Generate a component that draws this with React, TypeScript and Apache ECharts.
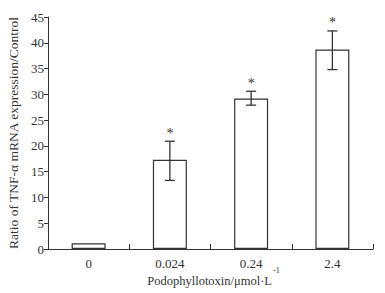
import React, { useEffect, useRef } from "react";
import * as echarts from "echarts";

const categories = ["0", "0.024", "0.24", "2.4"];
const values = [1.1, 17.3, 29.2, 38.7];
const errLow = [1.1, 13.3, 27.9, 34.8];
const errHigh = [1.1, 20.9, 30.6, 42.3];
const marks = ["", "*", "*", "*"];
const yTicks = { min: 0, max: 45, interval: 5 };
const xTitle = "Podophyllotoxin/μmol·L";
const xTitleSup = "-1";
const yTitle = "Ratio of TNF-α mRNA expression/Control";

const FONT = "'Liberation Serif', 'Times New Roman', serif";
const INK = "#333";

export default function App() {
  const ref = useRef<HTMLDivElement>(null);
  useEffect(() => {
    if (!ref.current) return;
    const chart = echarts.init(ref.current, undefined, { renderer: "svg" });
    const errData = categories.map((_, i) => [i, errLow[i], errHigh[i], marks[i]]);
    chart.setOption({
      animation: false,
      backgroundColor: "#fff",
      grid: { left: 48, right: 12, top: 17, bottom: 44, containLabel: false, outerBoundsMode: "none" },
      graphic: [
        {
          type: "text",
          x: 272,
          y: 281,
          style: {
            text: xTitle,
            fontFamily: FONT,
            fontSize: 12.5,
            fill: INK,
            align: "right",
            verticalAlign: "middle",
          },
        },
        {
          type: "text",
          x: 273,
          y: 270,
          style: {
            text: xTitleSup,
            fontFamily: FONT,
            fontSize: 8,
            fill: INK,
            align: "left",
            verticalAlign: "middle",
          },
        },
      ],
      xAxis: {
        type: "category",
        data: categories,
        axisLine: { lineStyle: { color: INK, width: 1 } },
        axisTick: { show: true, inside: true, length: 5, lineStyle: { color: INK } },
        axisLabel: { color: INK, fontFamily: FONT, fontSize: 13, margin: 8 },
      },
      yAxis: {
        type: "value",
        min: yTicks.min,
        max: yTicks.max,
        interval: yTicks.interval,
        splitLine: { show: false },
        axisLine: { show: true, lineStyle: { color: INK, width: 1 } },
        axisTick: { show: true, length: 4, lineStyle: { color: INK } },
        axisLabel: { color: INK, fontFamily: FONT, fontSize: 13, margin: 4 },
        name: yTitle,
        nameLocation: "middle",
        nameGap: 28,
        nameTextStyle: { color: INK, fontFamily: FONT, fontSize: 13.5 },
      },
      series: [
        {
          type: "bar",
          data: values,
          barWidth: 34,
          itemStyle: { color: "#fff", borderColor: INK, borderWidth: 1.2 },
        },
        {
          type: "custom",
          data: errData,
          z: 5,
          renderItem: (params: any, api: any) => {
            const i = api.value(0);
            const lo = api.coord([i, api.value(1)]);
            const hi = api.coord([i, api.value(2)]);
            const mark = marks[params.dataIndex];
            const x = lo[0];
            const cap = 5;
            const style = { stroke: INK, lineWidth: 1.3 };
            const children: any[] = [];
            if (hi[1] !== lo[1]) {
              children.push(
                { type: "line", shape: { x1: x, y1: lo[1], x2: x, y2: hi[1] }, style },
                { type: "line", shape: { x1: x - cap, y1: hi[1], x2: x + cap, y2: hi[1] }, style },
                { type: "line", shape: { x1: x - cap, y1: lo[1], x2: x + cap, y2: lo[1] }, style }
              );
            }
            if (mark) {
              children.push({
                type: "text",
                style: {
                  text: mark,
                  x: x,
                  y: hi[1] - 1,
                  align: "center",
                  verticalAlign: "bottom",
                  fontFamily: FONT,
                  fontSize: 14,
                  fill: INK,
                },
              });
            }
            return { type: "group", children };
          },
        },
      ],
    });
    return () => chart.dispose();
  }, []);
  return (
    <div
      ref={ref}
      style={{ position: "absolute", left: 0, top: 0, width: 385, height: 293 }}
    />
  );
}
